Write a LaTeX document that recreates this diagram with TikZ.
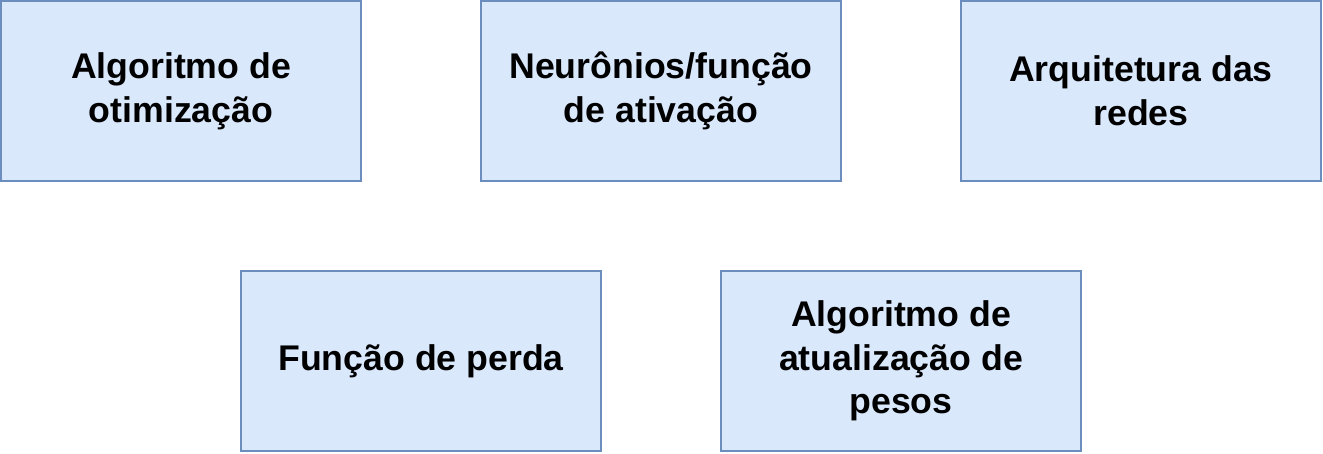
\documentclass[tikz,border=0pt]{standalone}
\usepackage{fontspec}
\setmainfont{Liberation Sans}
\usepackage{xcolor}
\usetikzlibrary{positioning}

\definecolor{boxfill}{HTML}{DAE8FC}
\definecolor{boxline}{HTML}{6C8EBF}

\tikzset{
  topic/.style={draw=boxline, fill=boxfill, line width=1.1pt,
    minimum width=7.2cm, minimum height=3.6cm, align=center,
    font=\fontsize{20.3}{24.8}\selectfont\bfseries, inner sep=0pt, outer sep=0pt}
}

\begin{document}
\begin{tikzpicture}
  \useasboundingbox (0,0) rectangle (26.46,-9.06);

  % Top row
  \node[topic] (otim) at (3.62,-1.82) {Algoritmo de\\otimização};
  \node[topic, right=2.4cm of otim] (ativ) {Neurônios/função\\de ativação};
  \node[topic, right=2.4cm of ativ] (arq) {Arquitetura das\\redes};

  % Bottom row
  \node[topic] (perda) at (8.42,-7.22) {Função de perda};
  \node[topic, right=2.4cm of perda] (pesos) {Algoritmo de\\atualização de\\pesos};
\end{tikzpicture}
\end{document}
